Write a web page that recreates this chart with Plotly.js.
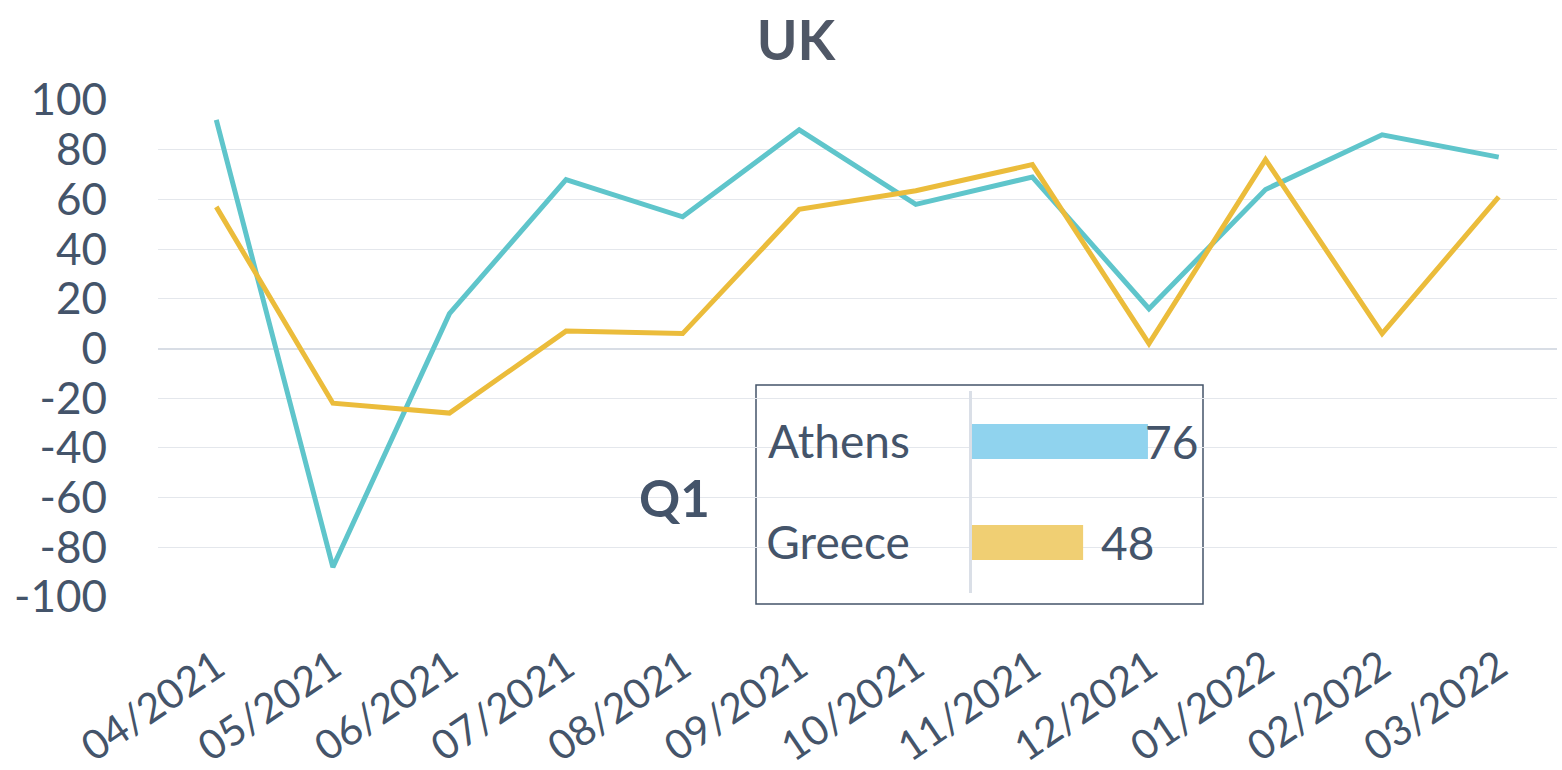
<!DOCTYPE html>
<html>
<head>
<meta charset="utf-8">
<script src="https://cdn.plot.ly/plotly-3.0.1.min.js"></script>
<style>
html,body{margin:0;padding:0;background:#fff;}
#chart{width:1562px;height:770px;}
</style>
</head>
<body>
<div id="chart"></div>
<script>
// ---- data ----
const months = ["04/2021","05/2021","06/2021","07/2021","08/2021","09/2021","10/2021","11/2021","12/2021","01/2022","02/2022","03/2022"];
const athens = [92, -88, 14, 68, 53, 88, 58, 69, 16, 64, 86, 77];
const greece = [57, -22, -26, 7, 6, 56, 63.5, 74, 2, 76, 6, 61];
const yTicks = [-100, -80, -60, -40, -20, 0, 20, 40, 60, 80, 100];
const yTickText = ["-100", "-80", "-60", "-40", "-20", "0", "20", "40", "60", "80", "100"];
const insetCats = ["Athens", "Greece"];
const insetVals = [76, 48];
const chartTitle = "UK";
const periodLabel = "Q1";

// ---- geometry helpers (pixel -> paper) ----
const W = 1562, H = 770, L = 158, R = 5, T = 100, B = 173;
const pw = W - L - R, ph = H - T - B;
const px = x => (x - L) / pw;
const py = y => (H - B - y) / ph;

const txt = "#44546A";
const font = "Lato, 'Open Sans', sans-serif";

const traces = [
  {x: months, y: athens, type: "scatter", mode: "lines", name: "Athens",
   line: {color: "#5FC5CB", width: 5}, xaxis: "x", yaxis: "y", hoverinfo: "none"},
  {x: months, y: greece, type: "scatter", mode: "lines", name: "Greece",
   line: {color: "#EBBC3B", width: 5}, xaxis: "x", yaxis: "y", hoverinfo: "none"},
  {x: insetVals, y: insetCats, type: "bar", orientation: "h",
   marker: {color: ["#90D3EE", "#F0CF73"]}, xaxis: "x2", yaxis: "y2", hoverinfo: "none"}
];

const valShift = [-5, 16];
const annotations = [
  {text: "<b>" + periodLabel + "</b>", xref: "paper", yref: "paper", x: px(674), y: py(497),
   xanchor: "center", yanchor: "middle", showarrow: false, font: {family: font, size: 51, color: txt}}
].concat(insetVals.map((v, i) => ({
  text: String(v), xref: "x2", yref: "y2", x: v, y: insetCats[i], xanchor: "left", yanchor: "middle",
  xshift: valShift[i], showarrow: false, font: {family: font, size: 46, color: txt}
})));

const layout = {
  width: W, height: H,
  margin: {l: L, r: R, t: T, b: B},
  paper_bgcolor: "#fff", plot_bgcolor: "rgba(0,0,0,0)",
  showlegend: false,
  title: {text: "<b>" + chartTitle + "</b>", x: 796 / W, xanchor: "center",
          yref: "container", y: 1 - 41 / H, yanchor: "middle",
          font: {family: font, size: 55, color: "#4F5766"}},
  xaxis: {type: "category", range: [-0.5, 11.5], domain: [0, 1], showgrid: false, zeroline: false,
          showline: false, ticks: "", tickangle: -34, ticklabelstandoff: 37,
          tickfont: {family: font, size: 41, color: txt}, fixedrange: true},
  yaxis: {range: [-100, 100], tickvals: yTicks, ticktext: yTickText, domain: [0, 1], showgrid: true,
          gridcolor: "#E4E7EC", gridwidth: 1, zeroline: true, zerolinecolor: "#D8DDE5", zerolinewidth: 2,
          showline: false, ticks: "", ticklabelstandoff: 50,
          tickfont: {family: font, size: 44, color: txt}, fixedrange: true},
  xaxis2: {domain: [px(972), px(1203.5)], range: [0, 100], anchor: "y2", showgrid: false,
           zeroline: false, showline: false, showticklabels: false, ticks: "", fixedrange: true},
  yaxis2: {domain: [py(593), py(391)], anchor: "x2", type: "category", autorange: "reversed",
           showgrid: false, zeroline: false, showline: true, linecolor: "#DADFE7", linewidth: 3,
           ticks: "", ticklabelstandoff: 50, tickfont: {family: font, size: 46, color: txt}, fixedrange: true},
  bargap: 0.655,
  shapes: [
    {type: "rect", xref: "paper", yref: "paper", x0: px(756), x1: px(1203), y0: py(604), y1: py(385),
     line: {color: "#44546A", width: 1.5}, fillcolor: "#ffffff", layer: "between"}
  ],
  annotations: annotations
};

Plotly.newPlot("chart", traces, layout, {staticPlot: true, responsive: false});
</script>
</body>
</html>
